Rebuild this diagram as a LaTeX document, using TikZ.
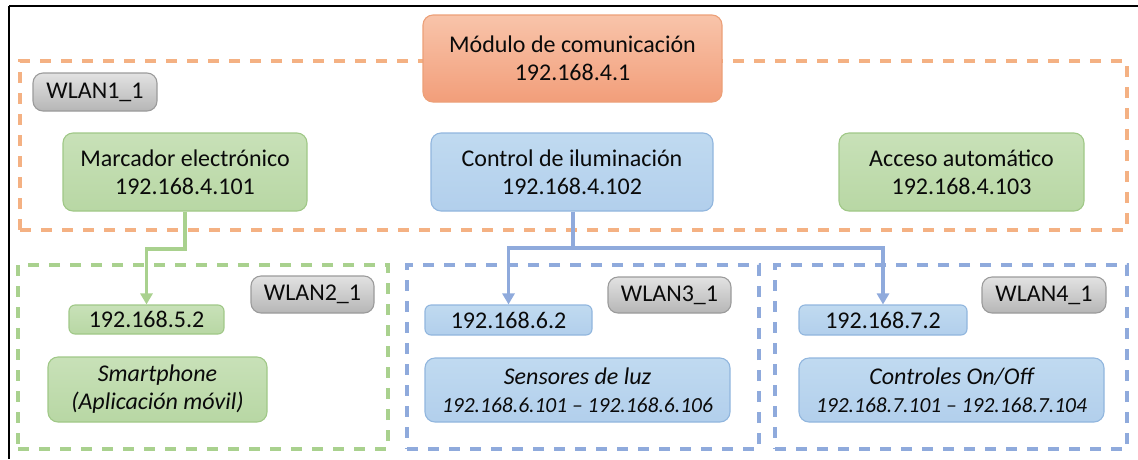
\documentclass[tikz,border=0pt]{standalone}
\usepackage{fontspec}
\setmainfont{Carlito}
\usetikzlibrary{arrows.meta}

\definecolor{orLine}{RGB}{244,177,131}
\definecolor{grLine}{RGB}{169,209,142}
\definecolor{blLine}{RGB}{143,170,220}
\definecolor{orTop}{RGB}{248,196,170}
\definecolor{orBot}{RGB}{242,158,122}
\definecolor{orEdge}{RGB}{236,160,120}
\definecolor{grTop}{RGB}{200,225,184}
\definecolor{grBot}{RGB}{184,215,164}
\definecolor{grEdge}{RGB}{160,200,135}
\definecolor{blTop}{RGB}{192,218,240}
\definecolor{blBot}{RGB}{178,207,236}
\definecolor{blEdge}{RGB}{145,182,222}
\definecolor{gyTop}{RGB}{226,226,226}
\definecolor{gyBot}{RGB}{182,182,182}
\definecolor{gyEdge}{RGB}{155,155,155}
\definecolor{ink}{RGB}{10,10,10}

% smaller italic for address ranges
\newcommand\iprange{\fontsize{21.5}{26}\selectfont\itshape}

\tikzset{
  card/.style={rounded corners=10pt, line width=1.1pt, inner sep=0pt,
    align=center, text=ink, font=\fontsize{24}{28}\selectfont, shading=axis},
  orcard/.style={card, draw=orEdge, top color=orTop, bottom color=orBot},
  grcard/.style={card, draw=grEdge, top color=grTop, bottom color=grBot},
  blcard/.style={card, draw=blEdge, top color=blTop, bottom color=blBot},
  gycard/.style={card, draw=gyEdge, top color=gyTop, bottom color=gyBot},
  zone/.style={draw=#1, line width=3.2pt, dash pattern=on 11pt off 10pt, inner sep=0pt},
  link/.style={draw=#1, line width=3.8pt, -{Triangle[length=11pt,width=12pt]}}
}

\begin{document}
\begin{tikzpicture}[x=1pt,y=-1pt]
\useasboundingbox (0,0) rectangle (1138,459);

% outer frame (top and left edges)
\draw[line width=2.8pt, black] (9,6) -- (1138,6);
\draw[line width=2.8pt, black] (9,6) -- (9,459);

% network zones
\node[zone=orLine, minimum width=1107pt, minimum height=169pt] (z1) at (573.5,145.5) {};
\node[zone=grLine, minimum width=370pt, minimum height=184pt] (z2) at (203,357) {};
\node[zone=blLine, minimum width=352pt, minimum height=184pt] (z3) at (583,357) {};
\node[zone=blLine, minimum width=352pt, minimum height=184pt] (z4) at (951,357) {};

% main module and first-level devices
\node[orcard, minimum width=299pt, minimum height=87pt] (mod) at (572.5,58.5)
  {Módulo de comunicación\\192.168.4.1};
\node[gycard, minimum width=124pt, minimum height=38pt] (w1) at (95,92) {WLAN1\_1};
\node[grcard, minimum width=244pt, minimum height=78pt] (marc) at (185,172)
  {Marcador electrónico\\192.168.4.101};
\node[blcard, minimum width=282pt, minimum height=78pt] (ctrl) at (572,172)
  {Control de iluminación\\192.168.4.102};
\node[grcard, minimum width=245pt, minimum height=78pt] (acc) at (961.5,172)
  {Acceso automático\\192.168.4.103};

% WLAN2
\node[gycard, minimum width=123pt, minimum height=37pt] (w2) at (312.5,294.5) {WLAN2\_1};
\node[grcard, rounded corners=6pt, minimum width=155pt, minimum height=29pt] (ip5) at (146.5,319.5) {192.168.5.2};
\node[grcard, minimum width=219pt, minimum height=65pt] (phone) at (157.5,389.5)
  {\itshape Smartphone\\\itshape (Aplicación móvil)};

% WLAN3
\node[gycard, minimum width=123pt, minimum height=36pt] (w3) at (669.5,295) {WLAN3\_1};
\node[blcard, rounded corners=6pt, minimum width=167pt, minimum height=30pt] (ip6) at (508.5,320) {192.168.6.2};
\node[blcard, minimum width=305pt, minimum height=64pt] (sens) at (577.5,390)
  {\itshape Sensores de luz\\{\iprange 192.168.6.101 – 192.168.6.106}};

% WLAN4
\node[gycard, minimum width=124pt, minimum height=36pt] (w4) at (1044,295) {WLAN4\_1};
\node[blcard, rounded corners=6pt, minimum width=168pt, minimum height=30pt] (ip7) at (883,320) {192.168.7.2};
\node[blcard, minimum width=305pt, minimum height=64pt] (ctl) at (951.5,390)
  {\itshape Controles On/Off\\{\iprange 192.168.7.101 – 192.168.7.104}};

% connectors
\coordinate (gbend) at (185,249);
\coordinate (bbend) at (573,248);
\draw[link=grLine] (marc.south) -- (gbend) -| (ip5.north);
\draw[link=blLine] (ctrl.south -| bbend) -- (bbend) -| (ip6.north);
\draw[link=blLine] (bbend) -| (ip7.north);
\end{tikzpicture}
\end{document}
